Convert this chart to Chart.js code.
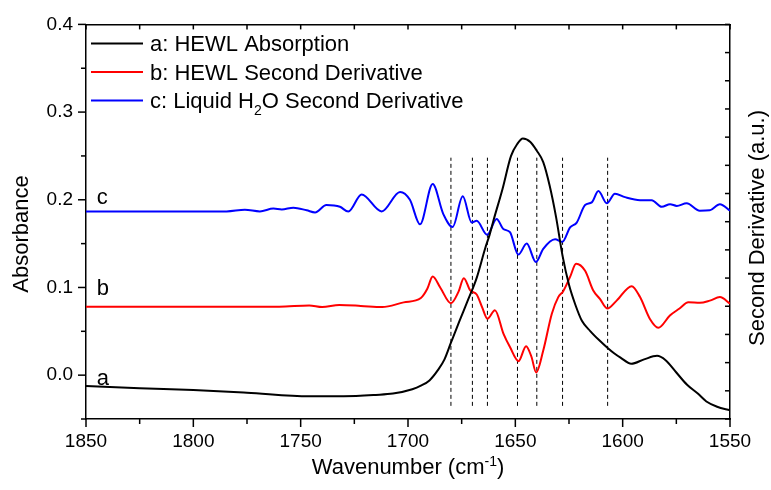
<!DOCTYPE html>
<html>
<head>
<meta charset="utf-8">
<script src="https://cdn.jsdelivr.net/npm/chart.js@4.4.1/dist/chart.umd.min.js"></script>
<style>
  html, body { margin: 0; padding: 0; background: #fff; }
  #wrap { width: 771px; height: 490px; }
</style>
</head>
<body>
<div id="wrap"><canvas id="ftirChart" width="771" height="490"></canvas></div>
<script>
// values (wavenumber in cm-1, absorbance units)
const waveA = [1850, 1825, 1800, 1775, 1746, 1730, 1715, 1707, 1698, 1694, 1690, 1686, 1683, 1680, 1676, 1672, 1668, 1664, 1662, 1660, 1656, 1652, 1649, 1646.5, 1643, 1640, 1637, 1634, 1631, 1628, 1625, 1622, 1619, 1615, 1611, 1607, 1604, 1601, 1596, 1590, 1584, 1580, 1575, 1570, 1565, 1561, 1556, 1550];
const absA = [-0.0125, -0.015, -0.017, -0.020, -0.024, -0.024, -0.0225, -0.021, -0.016, -0.012, -0.006, 0.006, 0.018, 0.037, 0.062, 0.086, 0.111, 0.145, 0.160, 0.178, 0.212, 0.250, 0.264, 0.270, 0.266, 0.256, 0.243, 0.216, 0.180, 0.136, 0.103, 0.080, 0.062, 0.050, 0.040, 0.031, 0.025, 0.020, 0.013, 0.018, 0.022, 0.017, 0.003, -0.011, -0.021, -0.030, -0.036, -0.040];

const waveB = [1850, 1800, 1760, 1746, 1740, 1732, 1722, 1712, 1702, 1694, 1691, 1688.5, 1685, 1680, 1676.5, 1674, 1671, 1668, 1665.5, 1663, 1659.5, 1655.5, 1652.5, 1648.5, 1645, 1642.5, 1640.3, 1637, 1633, 1630, 1627.7, 1624.5, 1621.7, 1617.5, 1613.7, 1610.6, 1607.2, 1602.8, 1595.8, 1591.9, 1587.3, 1583.4, 1578, 1573.5, 1569.4, 1564, 1559.4, 1554.7, 1550];
const derivB = [0.078, 0.078, 0.078, 0.0795, 0.0776, 0.080, 0.079, 0.0776, 0.083, 0.088, 0.0985, 0.1125, 0.100, 0.082, 0.095, 0.1106, 0.0966, 0.092, 0.0776, 0.0644, 0.074, 0.047, 0.032, 0.016, 0.033, 0.021, 0.003, 0.028, 0.070, 0.089, 0.0958, 0.112, 0.127, 0.119, 0.0966, 0.087, 0.076, 0.085, 0.1015, 0.089, 0.064, 0.054, 0.068, 0.076, 0.083, 0.0825, 0.085, 0.089, 0.0815];

const waveC = [1850, 1784.5, 1776, 1769, 1762.7, 1758.8, 1753.4, 1747.2, 1743.3, 1738, 1731.7, 1727.8, 1721.6, 1712.3, 1703.7, 1699.1, 1694.4, 1688.5, 1683.6, 1679.2, 1674.5, 1670.3, 1668, 1663.1, 1658.7, 1655.6, 1652.5, 1648.6, 1644.7, 1640.4, 1637, 1631.5, 1628.1, 1624.5, 1621.4, 1617.5, 1614.4, 1611.3, 1607.4, 1603.6, 1598.9, 1591.9, 1586.5, 1581.8, 1577.9, 1574.8, 1570.2, 1564.1, 1559.4, 1554.7, 1550];
const derivC = [0.1867, 0.1867, 0.1886, 0.1867, 0.190, 0.189, 0.191, 0.188, 0.1856, 0.194, 0.192, 0.1865, 0.206, 0.1867, 0.209, 0.200, 0.172, 0.218, 0.184, 0.169, 0.204, 0.174, 0.176, 0.160, 0.178, 0.1667, 0.163, 0.1375, 0.150, 0.129, 0.144, 0.155, 0.152, 0.1685, 0.174, 0.194, 0.197, 0.210, 0.196, 0.207, 0.203, 0.1996, 0.1996, 0.192, 0.195, 0.193, 0.196, 0.1875, 0.188, 0.195, 0.1875];

// dashed band markers
const bandPositions = [1680, 1670, 1663, 1649, 1640, 1628, 1607];
const bandSpan = [-0.035, 0.248];

const xTicks = [1850, 1800, 1750, 1700, 1650, 1600, 1550];
const xMinor = [1850, 1825, 1800, 1775, 1750, 1725, 1700, 1675, 1650, 1625, 1600, 1575, 1550];
const yTicks = [0.0, 0.1, 0.2, 0.3, 0.4];
const yMinor = [-0.05, 0.0, 0.05, 0.1, 0.15, 0.2, 0.25, 0.3, 0.35, 0.4];
const rightTicks = [0, 1, 2, 3, 4, 5, 6, 7, 8, 9, 10, 11, 12, 13, 14];
const seriesLabels = ['a: HEWL Absorption', 'b: HEWL Second Derivative', 'c: Liquid H\u2082O Second Derivative'];
const seriesColors = ['#000000', '#ff0000', '#0000ff'];
const curveTags = ['a', 'b', 'c'];

const FONT = '"Liberation Sans", Arial, sans-serif';
const toPoints = (xs, ys) => xs.map((x, i) => ({ x: x, y: ys[i] }));

// text with a sub/superscript chunk: parts = [[text, shift]], shift 0 = normal
function drawRich(ctx, parts, x, y, size) {
    let cx = x;
    parts.forEach(([t, shift]) => {
        const s = shift ? Math.round(size * 0.62) : size;
        ctx.font = `${s}px ${FONT}`;
        ctx.fillText(t, cx, y + shift * size);
        cx += ctx.measureText(t).width;
    });
    return cx - x;
}
function richWidth(ctx, parts, size) {
    let w = 0;
    parts.forEach(([t, shift]) => {
        ctx.font = `${shift ? Math.round(size * 0.62) : size}px ${FONT}`;
        w += ctx.measureText(t).width;
    });
    return w;
}
function splitSub(label) {
    const bits = label.split('\u2082');
    const out = [];
    bits.forEach((b, i) => {
        out.push([b, 0]);
        if (i < bits.length - 1) out.push(['2', 0.3]);
    });
    return out;
}

function line(ctx, x1, y1, x2, y2) {
    ctx.beginPath();
    ctx.moveTo(x1, y1);
    ctx.lineTo(x2, y2);
    ctx.stroke();
}

const frameDecor = {
    id: 'frameDecor',
    afterDraw(chart) {
        const ctx = chart.ctx;
        const a = chart.chartArea;
        const sx = chart.scales.x, sy = chart.scales.y, sy2 = chart.scales.y2;
        ctx.save();
        ctx.setLineDash([]);
        ctx.strokeStyle = '#000000';
        ctx.lineWidth = 1.5;
        // bottom (outward) and top (inward) ticks
        xMinor.forEach(v => {
            const px = sx.getPixelForValue(v);
            const major = xTicks.includes(v);
            line(ctx, px, a.bottom, px, a.bottom + (major ? 8 : 5));
            line(ctx, px, a.top, px, a.top + 5);
        });
        // left ticks, outward
        yMinor.forEach((v, k) => {
            const py = sy.getPixelForValue(v);
            line(ctx, a.left, py, a.left - (k % 2 === 1 ? 8 : 5), py);
        });
        // right ticks, inward
        rightTicks.forEach(v => {
            const py = sy2.getPixelForValue(v);
            line(ctx, a.right, py, a.right - 5, py);
        });

        ctx.textBaseline = 'alphabetic';
        ctx.textAlign = 'left';

        // legend
        seriesLabels.forEach((lab, i) => {
            const ly = a.top + 19 + i * 28.5;
            ctx.strokeStyle = seriesColors[i];
            ctx.lineWidth = 2;
            line(ctx, a.left + 5, ly, a.left + 57, ly);
            ctx.fillStyle = '#000';
            drawRich(ctx, splitSub(lab), a.left + 64, ly + 8, 22);
        });

        // curve tags a, b, c
        const tagValues = [-0.011, 0.091, 0.195];
        ctx.fillStyle = '#000';
        ctx.font = `22px ${FONT}`;
        curveTags.forEach((t, i) => {
            ctx.fillText(t, sx.getPixelForValue(1845), sy.getPixelForValue(tagValues[i]));
        });

        // x title
        const xt = [['Wavenumber (cm', 0], ['-1', -0.38], [')', 0]];
        const w = richWidth(ctx, xt, 22);
        drawRich(ctx, xt, (a.left + a.right) / 2 - w / 2, 474, 22);

        // y titles
        ctx.font = `22px ${FONT}`;
        ctx.textAlign = 'center';
        ctx.textBaseline = 'middle';
        ctx.save();
        ctx.translate(22, 234);
        ctx.rotate(-Math.PI / 2);
        ctx.fillText('Absorbance', 0, 0);
        ctx.restore();
        ctx.save();
        ctx.translate(758, 228);
        ctx.rotate(-Math.PI / 2);
        ctx.fillText('Second Derivative (a.u.)', 0, 0);
        ctx.restore();
        ctx.restore();
    }
};

const curves = [
    toPoints(waveA, absA),
    toPoints(waveB, derivB),
    toPoints(waveC, derivC)
].map((pts, i) => ({
    label: seriesLabels[i],
    data: pts,
    borderColor: seriesColors[i],
    borderWidth: 2,
    pointRadius: 0,
    fill: false,
    cubicInterpolationMode: 'monotone'
}));

const bands = bandPositions.map(p => ({
    label: 'band ' + p,
    data: [{ x: p, y: bandSpan[0] }, { x: p, y: bandSpan[1] }],
    borderColor: '#000',
    borderWidth: 1,
    borderDash: [4, 3],
    pointRadius: 0,
    fill: false
}));

const frameBorder = { display: true, color: '#000', width: 1.5 };

new Chart(document.getElementById('ftirChart'), {
    type: 'line',
    data: { datasets: curves.concat(bands) },
    options: {
        responsive: false,
        animation: false,
        layout: { padding: 0 },
        plugins: { legend: { display: false }, tooltip: { enabled: false } },
        scales: {
            x: {
                type: 'linear', position: 'bottom', reverse: true, min: 1550, max: 1850,
                afterBuildTicks: s => { s.ticks = xTicks.map(v => ({ value: v })); },
                ticks: { color: '#000', font: { size: 19, family: FONT }, padding: 11, maxRotation: 0, autoSkip: false, callback: v => String(v) },
                grid: { display: false, drawTicks: false },
                border: frameBorder,
                afterFit: s => { s.height = 71; }
            },
            x2: {
                type: 'linear', position: 'top', reverse: true, min: 1550, max: 1850,
                ticks: { display: false },
                grid: { display: false, drawTicks: false },
                border: frameBorder,
                afterFit: s => { s.height = 23; }
            },
            y: {
                type: 'linear', position: 'left', min: -0.05, max: 0.4,
                afterBuildTicks: s => { s.ticks = yTicks.map(v => ({ value: v })); },
                ticks: { color: '#000', font: { size: 19, family: FONT }, padding: 13, callback: v => v.toFixed(1) },
                grid: { display: false, drawTicks: false },
                border: frameBorder,
                afterFit: s => { s.width = 86; }
            },
            y2: {
                type: 'linear', position: 'right', min: 0, max: 14,
                ticks: { display: false },
                grid: { display: false, drawTicks: false },
                border: frameBorder,
                afterFit: s => { s.width = 41; }
            }
        }
    },
    plugins: [frameDecor]
});
</script>
</body>
</html>
